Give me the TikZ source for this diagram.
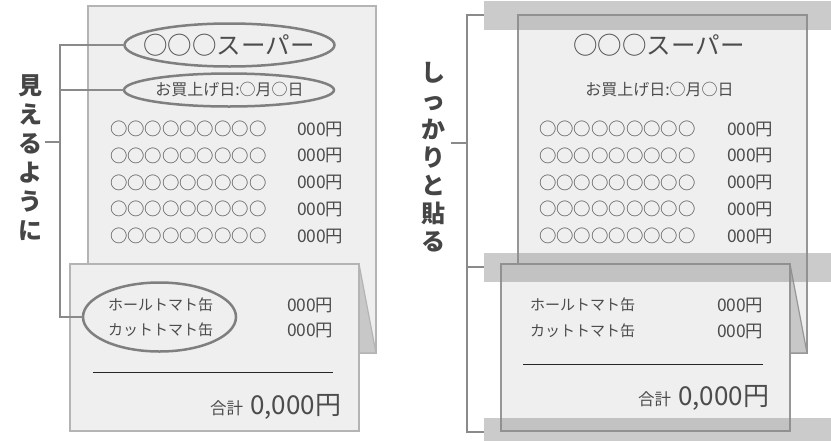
\documentclass[tikz,border=0pt]{standalone}
\usepackage{fontspec}
\newfontfamily\jp{Noto Sans CJK JP}
\usetikzlibrary{shapes.geometric}
\definecolor{paper}{HTML}{EFEFEF}
\definecolor{edgeL}{HTML}{B4B4B4}
\definecolor{edgeR}{HTML}{969696}
\definecolor{ink}{HTML}{4C4C4C}
\definecolor{ringc}{HTML}{7F7F7F}
\definecolor{linec}{HTML}{8A8A8A}
\definecolor{foldc}{HTML}{C8C8C8}
\definecolor{tapec}{HTML}{8C8C8C}
\definecolor{labelc}{HTML}{454545}
\begin{document}
\begin{tikzpicture}[x=1pt,y=-1pt,
  every node/.style={inner sep=0pt, outer sep=0pt, text=ink},
  titletxt/.style={font=\jp\fontsize{24.5}{24.5}\selectfont},
  datetxt/.style={font=\jp\fontsize{16}{16}\selectfont},
  rowtxt/.style={font=\jp\fontsize{17.4}{17.4}\selectfont, anchor=west},
  itemtxt/.style={font=\jp\fontsize{15}{15}\selectfont, anchor=west},
  sumlbl/.style={font=\jp\fontsize{16.5}{16.5}\selectfont, anchor=base east},
  sumamt/.style={font=\jp\fontsize{26}{26}\selectfont, anchor=base east},
  ring/.style={ellipse, draw=ringc, line width=2.5pt},
  callout/.style={draw=linec, line width=2.5pt},
  vlabel/.style={font=\jp\bfseries\fontsize{24}{29}\selectfont, align=center, text=labelc},
  paperL/.style={fill=paper, draw=edgeL, line width=1.2pt},
  paperR/.style={fill=paper, draw=edgeR, line width=1.2pt},
  rule/.style={draw=black!85, line width=0.9pt},
  tapestrip/.style={fill=tapec, fill opacity=0.45, draw=none, minimum width=347pt, minimum height=29pt, anchor=west}
]
\useasboundingbox (0,0) rectangle (831,440);

% ---------------- Left panel ----------------
\draw[paperL] (88,6) rectangle (376,353);
\draw[paperL, fill=foldc] (359,264) -- (376,353) -- (359,353) -- cycle;
\draw[paperL] (70,264) rectangle (359,431);

\node[titletxt] (lt) at (229,45) {○○○スーパー};
\node[datetxt] (ld) at (229.5,90) {お買上げ日:○月○日};
\foreach \i in {0,...,4} {
  \node[rowtxt] (lc\i) at (110,{129+26.75*\i}) {○○○○○○○○○};
  \node[rowtxt] (lp\i) at (297,{129+26.75*\i}) {000円};
}
\node[itemtxt] (li1) at (108,305) {ホールトマト缶};
\node[itemtxt] (li2) at (108,330) {カットトマト缶};
\node[rowtxt] (lq1) at (287,305) {000円};
\node[rowtxt] (lq2) at (287,330) {000円};
\coordinate (lr1) at (93,372); \coordinate (lr2) at (333,372);
\draw[rule] (lr1) -- (lr2);
\node[sumamt] (lamt) at (341,414) {0,000円};
\node[sumlbl] (llbl) at ([xshift=-7pt]lamt.base west) {合計};

\node[ring, minimum width=210pt, minimum height=43pt] (e1) at (229.5,45) {};
\node[ring, minimum width=210pt, minimum height=33pt] (e2) at (229,90) {};
\node[ring, minimum width=153pt, minimum height=69pt] (e3) at (159.5,317) {};

\coordinate (lbT) at (60,45);
\coordinate (lbB) at (60,317);
\coordinate (lbM) at (60,142);
\coordinate (lbK) at (45,142);
\draw[callout] (e1.west) -- (lbT) -- (lbB) -- (e3.west);
\draw[callout] (e2.west) -- (e2.west -| lbT);
\draw[callout] (lbM) -- (lbK);
\node[vlabel] (lab1) at (30,157.5) {見\\え\\る\\よ\\う\\に};

% ---------------- Right panel ----------------
\draw[paperR] (518,15) rectangle (807,353);
\draw[paperR, fill=foldc] (790,264) -- (807,353) -- (790,353) -- cycle;
\draw[paperR] (501,264) rectangle (790,431);

\node[titletxt] (rt) at (659,45) {○○○スーパー};
\node[datetxt] (rd) at (659.5,90) {お買上げ日:○月○日};
\foreach \i in {0,...,4} {
  \node[rowtxt] (rc\i) at (539,{129+26.75*\i}) {○○○○○○○○○};
  \node[rowtxt] (rp\i) at (727,{129+26.75*\i}) {000円};
}
\node[itemtxt] (ri1) at (530,305) {ホールトマト缶};
\node[itemtxt] (ri2) at (530,331) {カットトマト缶};
\node[rowtxt] (rq1) at (717,305) {000円};
\node[rowtxt] (rq2) at (717,331) {000円};
\coordinate (rr1) at (523,364); \coordinate (rr2) at (763,364);
\draw[rule] (rr1) -- (rr2);
\node[sumamt] (ramt) at (769,405) {0,000円};
\node[sumlbl] (rlbl) at ([xshift=-7pt]ramt.base west) {合計};

\node[tapestrip] (tA) at (484,15) {};
\node[tapestrip] (tB) at (484,267) {};
\node[tapestrip] (tC) at (484,432) {};

\coordinate (rbM) at (467,143);
\coordinate (rbK) at (451,143);
\draw[callout] (tA.west) -- ++(-17,0) |- (tC.west);
\draw[callout] (tB.west) -- ++(-17,0);
\draw[callout] (rbM) -- (rbK);
\node[vlabel, font=\jp\bfseries\fontsize{24}{28.2}\selectfont] (lab2) at (433,157.5) {し\\っ\\か\\り\\と\\貼\\る};
\end{tikzpicture}
\end{document}
